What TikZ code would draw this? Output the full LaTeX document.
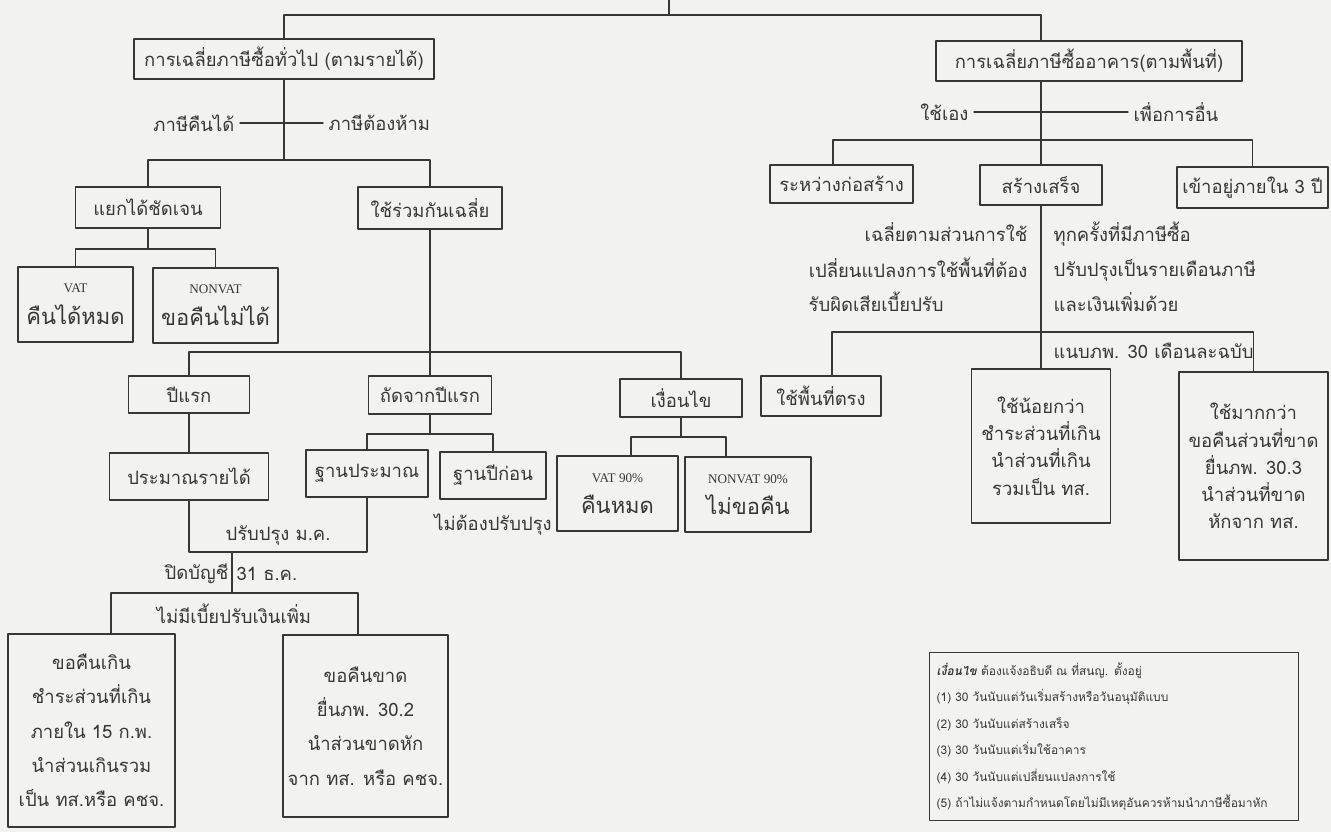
\documentclass[tikz,border=0pt]{standalone}
\usepackage{fontspec}
\newfontfamily\thaifont[Script=Thai]{Loma}
\newfontfamily\latinserif{Liberation Serif}
\usetikzlibrary{calc}
\definecolor{paper}{RGB}{242,242,240}
\definecolor{ink}{RGB}{55,55,55}
\newcommand\smallrm{\latinserif\fontsize{7.5}{9}\selectfont}
\newcommand\bigth{\fontsize{12.5}{15}\selectfont}
\tikzset{
    box/.style={
        draw=ink, line width=0.8pt, text=ink, align=center, inner sep=2pt,
        font=\thaifont\fontsize{10.5}{15}\selectfont
    },
    tall/.style={
        box, font=\thaifont\fontsize{10.5}{19.5}\selectfont
    },
    lab/.style={
        text=ink, inner sep=3pt, align=center,
        font=\thaifont\fontsize{10.5}{20}\selectfont
    },
    wire/.style={draw=ink, line width=0.8pt},
    boxsize/.style 2 args={minimum width=#1*0.02cm, minimum height=#2*0.02cm}
}

\begin{document}
\begin{tikzpicture}[x=0.02cm, y=-0.02cm, line cap=round, line join=round]

% --- page (pixel grid of the scan, y downwards) ---
    \fill[paper] (0,0) rectangle (1331,832);
    \useasboundingbox (0,0) rectangle (1331,832);

% --- bar points ---
    \coordinate (root) at (669,0);
    \coordinate (topbar) at (669,15);
    \coordinate (genbar) at (284,160);
    \coordinate (sepbar) at (148,249);
    \coordinate (sharebar) at (430,352);
    \coordinate (nextbar) at (430,434);
    \coordinate (close) at (232,552);
    \coordinate (nobarL) at (111,593);
    \coordinate (nobarR) at (358,593);
    \coordinate (condbar) at (681,437);
    \coordinate (condL) at (631,437);
    \coordinate (condR) at (726,437);
    \coordinate (bldgbar) at (1041,140);
    \coordinate (buildL) at (833,140);
    \coordinate (donebar) at (1041,332);
    \coordinate (directL) at (832,332);

% --- left tree: general input tax ---
    \node[box, boxsize={300}{40}] (gen) at (284,59) {การเฉลี่ยภาษีซื้อทั่วไป (ตามรายได้)};
    \node[lab, anchor=east] (refund) at (240,123) {ภาษีคืนได้};
    \node[lab, anchor=west] (banned) at (323,123) {ภาษีต้องห้าม};
    \node[box, boxsize={145}{41}] (sep) at (148,207.5) {แยกได้ชัดเจน};
    \node[box, boxsize={144}{42}] (share) at (430,208) {ใช้ร่วมกันเฉลี่ย};
    \node[box, boxsize={115}{75}] (vat) at (75.5,304.5) {{\smallrm VAT}\\[3pt]{\bigth คืนได้หมด}};
    \node[box, boxsize={125}{75}] (nonvat) at (215.5,305.5) {{\smallrm NONVAT}\\[3pt]{\bigth ขอคืนไม่ได้}};
    \node[box, boxsize={121}{37}] (first) at (189,394.5) {ปีแรก};
    \node[box, boxsize={123}{38}] (next) at (430,395) {ถัดจากปีแรก};
    \node[box, boxsize={122}{38}] (cond) at (681,398) {เงื่อนไข};
    \node[box, boxsize={159}{47}] (est) at (189,476.5) {ประมาณรายได้};
    \node[box, boxsize={122}{47}] (base) at (367,473.5) {ฐานประมาณ};
    \node[box, boxsize={106}{47}] (prev) at (493,475.5) {ฐานปีก่อน};
    \node[lab] (noadj) at (493,525) {ไม่ต้องปรับปรุง};
    \node[box, boxsize={121}{75}] (vat90) at (617.5,493.5) {{\smallrm VAT 90\%}\\[3pt]{\bigth คืนหมด}};
    \node[box, boxsize={126}{75}] (nonvat90) at (748,494.5) {{\smallrm NONVAT 90\%}\\[3pt]{\bigth ไม่ขอคืน}};
    \node[lab] (adjust) at (278,536) {ปรับปรุง ม.ค.};
    \node[lab, anchor=east] (closeacc) at (234,574) {ปิดบัญชี};
    \node[lab, anchor=west] (closedate) at (231,574) {31 ธ.ค.};
    \node[lab] (nofine) at (234,614) {ไม่มีเบี้ยปรับเงินเพิ่ม};
    \node[tall, boxsize={167}{193}] (over) at (91.5,730.5)
        {ขอคืนเกิน\\ชำระส่วนที่เกิน\\ภายใน 15 ก.พ.\\นำส่วนเกินรวม\\เป็น ทส.หรือ คชจ.};
    \node[tall, boxsize={165}{182}] (under) at (365.5,726)
        {ขอคืนขาด\\ยื่นภพ. 30.2\\นำส่วนขาดหัก\\จาก ทส. หรือ คชจ.};

% --- right tree: buildings ---
    \node[box, boxsize={306}{40}] (bldg) at (1089,61) {การเฉลี่ยภาษีซื้ออาคาร(ตามพื้นที่)};
    \node[lab, anchor=east] (own) at (974,112) {ใช้เอง};
    \node[lab, anchor=west] (other) at (1128,112) {เพื่อการอื่น};
    \node[box, boxsize={143}{38}] (build) at (841.5,184) {ระหว่างก่อสร้าง};
    \node[box, boxsize={122}{40}] (done) at (1041,185) {สร้างเสร็จ};
    \node[box, boxsize={151}{41}] (occ) at (1252.5,187.5) {เข้าอยู่ภายใน 3 ปี};
    \node[lab, align=right, anchor=east] (prorate) at (1033,250)
        {เฉลี่ยตามส่วนการใช้\\เปลี่ยนแปลงการใช้พื้นที่ต้อง};
    \node[lab, anchor=west] (penalty) at (803,302) {รับผิดเสียเบี้ยปรับ};
    \node[lab, align=left, anchor=west] (monthly) at (1048,267)
        {ทุกครั้งที่มีภาษีซื้อ\\ปรับปรุงเป็นรายเดือนภาษี\\และเงินเพิ่มด้วย};
    \node[lab, anchor=west] (attach) at (1048,351) {แนบภพ. 30 เดือนละฉบับ};
    \node[box, boxsize={120}{40}] (direct) at (821,396) {ใช้พื้นที่ตรง};
    \node[box, font=\thaifont\fontsize{10.5}{15.5}\selectfont, boxsize={139}{154}] (less) at (1041,446)
        {ใช้น้อยกว่า\\ชำระส่วนที่เกิน\\นำส่วนที่เกิน\\รวมเป็น ทส.};
    \node[box, font=\thaifont\fontsize{10.5}{15.5}\selectfont, boxsize={149}{188}] (more) at (1253.5,466)
        {ใช้มากกว่า\\ขอคืนส่วนที่ขาด\\ยื่นภพ. 30.3\\นำส่วนที่ขาด\\หักจาก ทส.};

% --- note on conditions ---
    \node[draw=ink, line width=0.8pt, text=ink, anchor=north west, align=left,
        inner sep=4pt, text width=369*0.02cm-8pt, minimum height=168*0.02cm,
        font=\thaifont\fontsize{6.8}{15}\selectfont] (note) at (929,652)
        {\textbf{\textit{เงื่อนไข}} ต้องแจ้งอธิบดี ณ ที่สนญ. ตั้งอยู่\\
         (1) 30 วันนับแต่วันเริ่มสร้างหรือวันอนุมัติแบบ\\
         (2) 30 วันนับแต่สร้างเสร็จ\\
         (3) 30 วันนับแต่เริ่มใช้อาคาร\\
         (4) 30 วันนับแต่เปลี่ยนแปลงการใช้\\
         (5) ถ้าไม่แจ้งตามกำหนดโดยไม่มีเหตุอันควรห้ามนำภาษีซื้อมาหัก};

% --- connectors ---
    \draw[wire] (root) -- (topbar);
    \draw[wire] (gen.north) |- (topbar) -| (bldg.north -| done.north);
    \draw[wire] (gen.south) -- (genbar);
    \draw[wire] (refund.east) -- (banned.west);
    \draw[wire] (sep.north) |- (genbar) -| (share.north);
    \draw[wire] (sep.south) -- (sepbar);
    \draw[wire] (vat.north) |- (sepbar) -| (nonvat.north);
    \draw[wire] (share.south) -- (sharebar);
    \draw[wire] (first.north) |- (sharebar) -| (cond.north);
    \draw[wire] (sharebar) -- (next.north);
    \draw[wire] (first.south) -- (est.north);
    \draw[wire] (next.south) -- (nextbar);
    \draw[wire] (base.north) |- (nextbar) -| (prev.north);
    \draw[wire] (est.south) |- (close) -| (base.south);
    \draw[wire] (close) -- (close |- nobarL);
    \draw[wire] (over.north -| nobarL) -- (nobarL) -- (nobarR) -- (under.north -| nobarR);
    \draw[wire] (cond.south) -- (condbar);
    \draw[wire] (vat90.north -| condL) -- (condL) -- (condR) -- (nonvat90.north -| condR);
    \draw[wire] (bldg.south -| done.north) -- (done.north);
    \draw[wire] (own.east) -- (other.west);
    \draw[wire] (build.north -| buildL) |- (bldgbar) -| (occ.north);
    \draw[wire] (done.south) -- (less.north);
    \draw[wire] (direct.north -| directL) |- (donebar) -| (more.north);

\end{tikzpicture}
\end{document}
